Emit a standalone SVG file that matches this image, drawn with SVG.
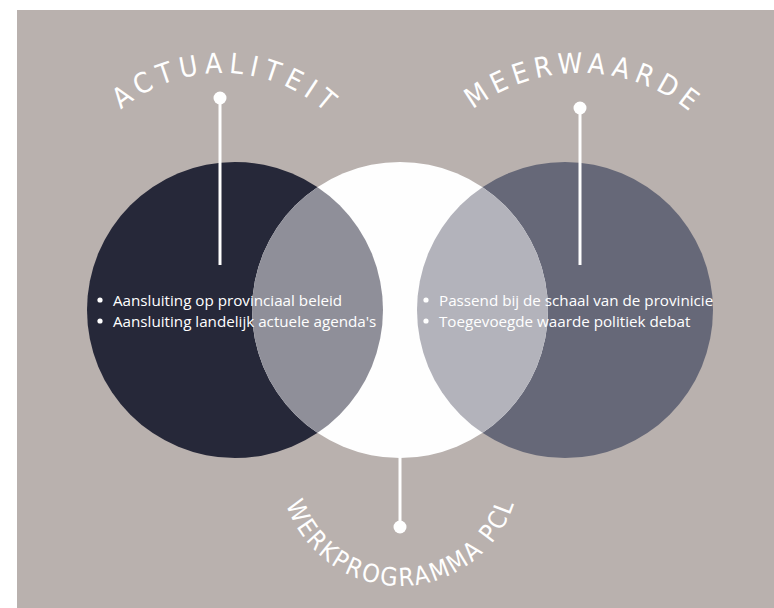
<svg xmlns="http://www.w3.org/2000/svg" width="774" height="608" viewBox="0 0 774 608">
  <style>
    .title { font-family: "DejaVu Sans Condensed", "Liberation Sans Narrow", "Liberation Sans", sans-serif; font-stretch: condensed; fill: #ffffff; }
    .body { font-family: "Open Sans", "Liberation Sans", sans-serif; font-size: 15.2px; fill: #ffffff; }
    .pin { stroke: #ffffff; stroke-width: 3; fill: none; }
    .dot { fill: #ffffff; }
  </style>
  <defs>
    <path id="arcA" d="M 65,230 A 157 157 0 0 1 379,230"/>
    <path id="arcM" d="M 405,248 A 175 175 0 0 1 755,248"/>
    <path id="arcW" d="M 280,466 A 120 120 0 0 0 520,466"/>
    <clipPath id="clipMid"><circle cx="400" cy="310" r="148"/></clipPath>
  </defs>
  <rect x="0" y="0" width="774" height="608" fill="#ffffff"/>
  <rect x="17" y="10" width="757" height="598" fill="#b9b1ae"/>

  <g id="circle-left"><circle cx="235" cy="310" r="148" fill="#262839"/></g>
  <g id="circle-right"><circle cx="565" cy="310" r="148" fill="#666878"/></g>
  <g id="circle-mid">
    <circle cx="400" cy="310" r="148" fill="#fefefe"/>
    <circle cx="235" cy="310" r="148" fill="#8f8f99" clip-path="url(#clipMid)"/>
    <circle cx="565" cy="310" r="148" fill="#b3b3bb" clip-path="url(#clipMid)"/>
  </g>

  <g id="connectors">
    <line class="pin" x1="220" y1="98" x2="220" y2="265"/>
    <circle class="dot" cx="220" cy="98" r="6.5"/>
    <line class="pin" x1="580" y1="108" x2="580" y2="265"/>
    <circle class="dot" cx="580" cy="108" r="6.5"/>
    <line class="pin" x1="400" y1="455" x2="400" y2="527"/>
    <circle class="dot" cx="400" cy="527" r="6.5"/>
  </g>

  <g id="label-actualiteit">
    <text class="title" font-size="28" letter-spacing="6.2"><textPath href="#arcA" startOffset="51%" text-anchor="middle">ACTUALITEIT</textPath></text>
  </g>
  <g id="label-meerwaarde">
    <text class="title" font-size="28" letter-spacing="5.8"><textPath href="#arcM" startOffset="50.8%" text-anchor="middle">MEERWAARDE</textPath></text>
  </g>
  <g id="label-werkprogramma">
    <text class="title" font-size="25" letter-spacing="2.2"><textPath href="#arcW" startOffset="50.3%" text-anchor="middle">WERKPROGRAMMA PCL</textPath></text>
  </g>

  <g id="text-left">
    <circle class="dot" cx="100" cy="300" r="2.6"/>
    <text class="body" x="113" y="305.5">Aansluiting op provinciaal beleid</text>
    <circle class="dot" cx="100" cy="321" r="2.6"/>
    <text class="body" x="113" y="326.5">Aansluiting landelijk actuele agenda's</text>
  </g>
  <g id="text-right">
    <circle class="dot" cx="426" cy="300" r="2.6"/>
    <text class="body" x="439" y="305.5">Passend bij de schaal van de provinicie</text>
    <circle class="dot" cx="426" cy="321" r="2.6"/>
    <text class="body" x="439" y="326.5">Toegevoegde waarde politiek debat</text>
  </g>
</svg>
